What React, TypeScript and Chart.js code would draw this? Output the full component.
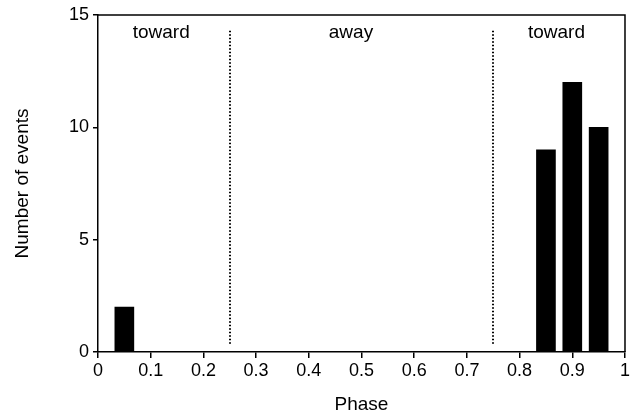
import React, { useEffect, useRef } from "react";
import { Chart, registerables } from "chart.js";

Chart.register(...registerables);

// Data
const phaseBins = [0.05, 0.85, 0.9, 0.95];
const eventCounts = [2, 9, 12, 10];
const xTicks = [0, 0.1, 0.2, 0.3, 0.4, 0.5, 0.6, 0.7, 0.8, 0.9, 1];
const yTicks = [0, 5, 10, 15];
const regionBoundaries = [0.25, 0.75];
const regionLabels = ["toward", "away", "toward"];
const regionLabelX = [0.12, 0.48, 0.87];
const regionLabelY = 14.2;
const dottedTop = 14.3;
const dottedBottom = 0.3;

const FONT = "'Liberation Sans', Arial, Helvetica, sans-serif";

const overlayPlugin = {
  id: "overlay",
  afterDatasetsDraw(chart: any) {
    const { ctx, chartArea, scales } = chart;
    const xs = scales.x;
    const ys = scales.y;
    ctx.save();
    // frame
    ctx.strokeStyle = "#000";
    ctx.lineWidth = 1.5;
    ctx.beginPath();
    ctx.moveTo(chartArea.left, chartArea.top);
    ctx.lineTo(chartArea.right, chartArea.top);
    ctx.lineTo(chartArea.right, chartArea.bottom);
    ctx.stroke();
    // dotted lines
    ctx.lineWidth = 2;
    ctx.setLineDash([1.5, 2]);
    regionBoundaries.forEach((b) => {
      const px = Math.round(xs.getPixelForValue(b));
      ctx.beginPath();
      ctx.moveTo(px, ys.getPixelForValue(dottedTop));
      ctx.lineTo(px, ys.getPixelForValue(dottedBottom));
      ctx.stroke();
    });
    ctx.setLineDash([]);
    // region labels
    ctx.fillStyle = "#000";
    ctx.font = `19px ${FONT}`;
    ctx.textAlign = "center";
    ctx.textBaseline = "middle";
    regionLabels.forEach((t, i) => {
      ctx.fillText(t, xs.getPixelForValue(regionLabelX[i]), ys.getPixelForValue(regionLabelY));
    });
    ctx.restore();
  },
};

export default function App() {
  const ref = useRef<HTMLCanvasElement | null>(null);
  useEffect(() => {
    if (!ref.current) return;
    const chart = new Chart(ref.current, {
      type: "bar",
      data: {
        datasets: [
          {
            data: phaseBins.map((x, i) => ({ x, y: eventCounts[i] })),
            backgroundColor: "#000",
            borderWidth: 0,
            barThickness: 19,
          },
        ],
      },
      options: {
        animation: false,
        responsive: false,
        maintainAspectRatio: false,
        layout: { padding: { top: 15, right: 7, left: 0, bottom: 0 } },
        plugins: { legend: { display: false }, tooltip: { enabled: false } },
        scales: {
          x: {
            type: "linear",
            min: 0,
            max: 1,
            offset: false,
            afterBuildTicks: (s: any) => {
              s.ticks = xTicks.map((v) => ({ value: v }));
            },
            afterFit: (s: any) => {
              s.height = 65;
            },
            ticks: {
              color: "#000",
              font: { family: FONT, size: 18 },
              padding: 2,
              maxRotation: 0,
              autoSkip: false,
              callback: (v: any) => String(v),
            },
            grid: {
              offset: false,
              drawOnChartArea: false,
              drawTicks: true,
              tickLength: 6,
              color: "#000",
              lineWidth: 1.5,
            },
            border: { color: "#000", width: 1.5 },
            title: {
              display: true,
              text: "Phase",
              color: "#000",
              font: { family: FONT, size: 19 },
              padding: { top: 0, bottom: 1 },
            },
          },
          y: {
            type: "linear",
            min: 0,
            max: 15,
            afterBuildTicks: (s: any) => {
              s.ticks = yTicks.map((v) => ({ value: v }));
            },
            afterFit: (s: any) => {
              s.width = 98;
            },
            ticks: {
              color: "#000",
              font: { family: FONT, size: 18 },
              padding: 4,
            },
            grid: {
              drawOnChartArea: false,
              drawTicks: true,
              tickLength: 5,
              color: "#000",
              lineWidth: 1.5,
            },
            border: { color: "#000", width: 1.5 },
            title: {
              display: true,
              text: "Number of events",
              color: "#000",
              font: { family: FONT, size: 19 },
              padding: { top: 11, bottom: 0 },
            },
          },
        },
      },
      plugins: [overlayPlugin],
    } as any);
    return () => chart.destroy();
  }, []);
  return (
    <div style={{ position: "fixed", left: 0, top: 0, width: 632, height: 417, background: "#fff" }}>
      <canvas ref={ref} width={632} height={417} style={{ display: "block" }} />
    </div>
  );
}
